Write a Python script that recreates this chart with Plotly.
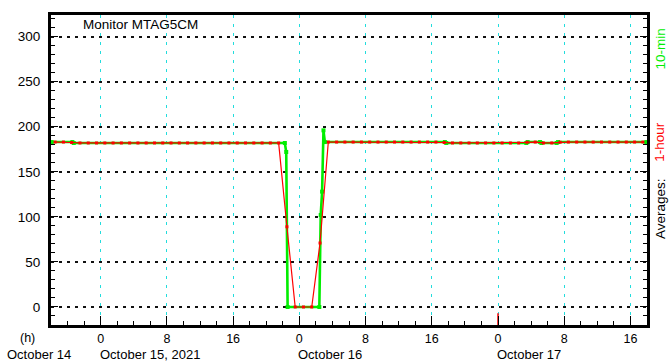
import plotly.graph_objects as go
import pandas as pd

# ---------------- data ----------------
# 10-minute averages (breakpoints of the green trace)
green_times = [
    "2021-10-14 18:05", "2021-10-14 20:35", "2021-10-14 20:45",
    "2021-10-15 22:15", "2021-10-15 22:25", "2021-10-15 22:35",
    "2021-10-16 02:25", "2021-10-16 02:35", "2021-10-16 02:45",
    "2021-10-16 02:55", "2021-10-16 03:05", "2021-10-16 17:35",
    "2021-10-16 17:45", "2021-10-17 03:25", "2021-10-17 03:35",
    "2021-10-17 05:05", "2021-10-17 05:15", "2021-10-17 07:05",
    "2021-10-17 07:15", "2021-10-17 17:55",
]
green_values = [
    183, 183, 182,
    182, 172, 0,
    0, 102, 128,
    196, 183, 183,
    182, 182, 183,
    183, 182, 182,
    183, 183,
]

# 1-hour averages, plotted at mid-hour starting 2021-10-14 18:30
red_start = "2021-10-14 18:30"
red_values = [
    183, 183, 182.5, 182, 182, 182,                # Oct 14 18:30 .. 23:30
    182, 182, 182, 182, 182, 182, 182, 182,        # Oct 15 00:30 .. 07:30
    182, 182, 182, 182, 182, 182, 182, 182,        # Oct 15 08:30 .. 15:30
    182, 182, 182, 182, 182, 182, 89, 0,           # Oct 15 16:30 .. 23:30
    0, 0, 71, 183, 183, 183, 183, 183,             # Oct 16 00:30 .. 07:30
    183, 183, 183, 183, 183, 183, 183, 183,        # Oct 16 08:30 .. 15:30
    183, 182.5, 182, 182, 182, 182, 182, 182,      # Oct 16 16:30 .. 23:30
    182, 182, 182, 182.7, 183, 182, 182, 182.8,    # Oct 17 00:30 .. 07:30
    183, 183, 183, 183, 183, 183, 183, 183,        # Oct 17 08:30 .. 15:30
    183, 183,                                      # Oct 17 16:30 .. 17:30
]

event_times = ["2021-10-17 00:00", "2021-10-17 00:00"]
event_values = [-20, -7]

x_range = ["2021-10-14 18:00", "2021-10-17 18:00"]
y_range = [-20, 324]

hour_tick_vals = [
    "2021-10-15 00:00", "2021-10-15 08:00", "2021-10-15 16:00",
    "2021-10-16 00:00", "2021-10-16 08:00", "2021-10-16 16:00",
    "2021-10-17 00:00", "2021-10-17 08:00", "2021-10-17 16:00",
]
hour_tick_text = ["0", "8", "16", "0", "8", "16", "0", "8", "16"]

date_label_times = ["2021-10-15 00:00", "2021-10-16 00:00", "2021-10-17 00:00"]
date_label_text = ["October 15, 2021", "October 16", "October 17"]

monitor_name = "Monitor MTAG5CM"

# ---------------- figure ----------------
red_times = pd.date_range(red_start, periods=len(red_values), freq="h")

FONT = "Liberation Sans, Arial, sans-serif"
FS = 13.5
FS_X = 12.5
FS_DATE = 13

fig = go.Figure()
fig.add_trace(go.Scatter(
    x=green_times, y=green_values, mode="lines+markers",
    line=dict(color="#00ee00", width=2.6),
    marker=dict(symbol="square", size=4, color="#00ee00"),
    hoverinfo="skip",
))
fig.add_trace(go.Scatter(
    x=red_times, y=red_values, mode="lines+markers",
    line=dict(color="#ff0000", width=1.2),
    marker=dict(symbol="square", size=3, color="#ff0000"),
    hoverinfo="skip",
))
fig.add_trace(go.Scatter(
    x=event_times, y=event_values, mode="lines",
    line=dict(color="#ff0000", width=1.5),
    hoverinfo="skip",
))

fig.update_layout(
    width=671, height=362,
    margin=dict(l=51, r=24, t=12, b=37),
    paper_bgcolor="white", plot_bgcolor="white",
    showlegend=False,
    font=dict(family=FONT, size=FS, color="black"),
)

fig.update_xaxes(
    type="date", range=x_range,
    tickmode="array", tickvals=hour_tick_vals, ticktext=hour_tick_text,
    ticks="inside", ticklen=9, tickwidth=1, tickcolor="black",
    tickfont=dict(family=FONT, size=FS_X, color="black"),
    ticklabelstandoff=0,
    showline=True, linewidth=3, linecolor="black", mirror=True,
    showgrid=True, gridcolor="#22dddd", gridwidth=1, griddash="3px,6px",
    zeroline=False,
    minor=dict(ticks="inside", ticklen=4, tickcolor="black",
               dtick=7200000, tick0="2021-10-14 18:00", showgrid=False),
)
fig.update_yaxes(
    range=y_range, tickmode="linear", tick0=0, dtick=50,
    ticks="inside", ticklen=7, tickwidth=1, tickcolor="black",
    tickfont=dict(family=FONT, size=FS, color="black"),
    ticklabelstandoff=5,
    showline=True, linewidth=3, linecolor="black", mirror="ticks",
    showgrid=True, gridcolor="#111111", gridwidth=1.5, griddash="3px,5px",
    zeroline=False,
    minor=dict(ticks="inside", ticklen=4, tickcolor="black",
               dtick=10, tick0=0, showgrid=False),
)

annotations = []
annotations.append(dict(
    text=monitor_name, xref="paper", yref="paper", x=0.05, y=0.968,
    xanchor="left", yanchor="middle", showarrow=False,
    font=dict(family=FONT, size=FS, color="black"),
))
annotations.append(dict(
    text="(h)", xref="paper", yref="paper", x=-0.039, y=-0.043,
    xanchor="center", yanchor="middle", showarrow=False,
    font=dict(family=FONT, size=FS_X, color="black"),
))
annotations.append(dict(
    text="October 14", xref="paper", yref="paper", x=-0.078, y=-0.094,
    xanchor="left", yanchor="middle", showarrow=False,
    font=dict(family=FONT, size=FS_DATE, color="black"),
))
for t, s in zip(date_label_times, date_label_text):
    annotations.append(dict(
        text=s, xref="x", yref="paper", x=t, y=-0.094,
        xanchor="left", yanchor="middle", showarrow=False, xshift=-3,
        font=dict(family=FONT, size=FS_DATE, color="black"),
    ))
for txt, col, yc in [("10-min", "#00ee00", 0.889),
                     ("1-hour", "#ff0000", 0.591),
                     ("Averages:", "black", 0.374)]:
    annotations.append(dict(
        text=txt, xref="paper", yref="paper", x=1.0, y=yc, xshift=13,
        xanchor="center", yanchor="middle", textangle=-90, showarrow=False,
        font=dict(family=FONT, size=FS, color=col),
    ))
fig.update_layout(annotations=annotations)

# remove the default 8px page margin so the 671x362 figure fills the window
fig.write_html(
    "out.html",
    config={"displayModeBar": False},
    post_script="document.body.style.margin='0';"
                "document.body.style.overflow='hidden';",
)
